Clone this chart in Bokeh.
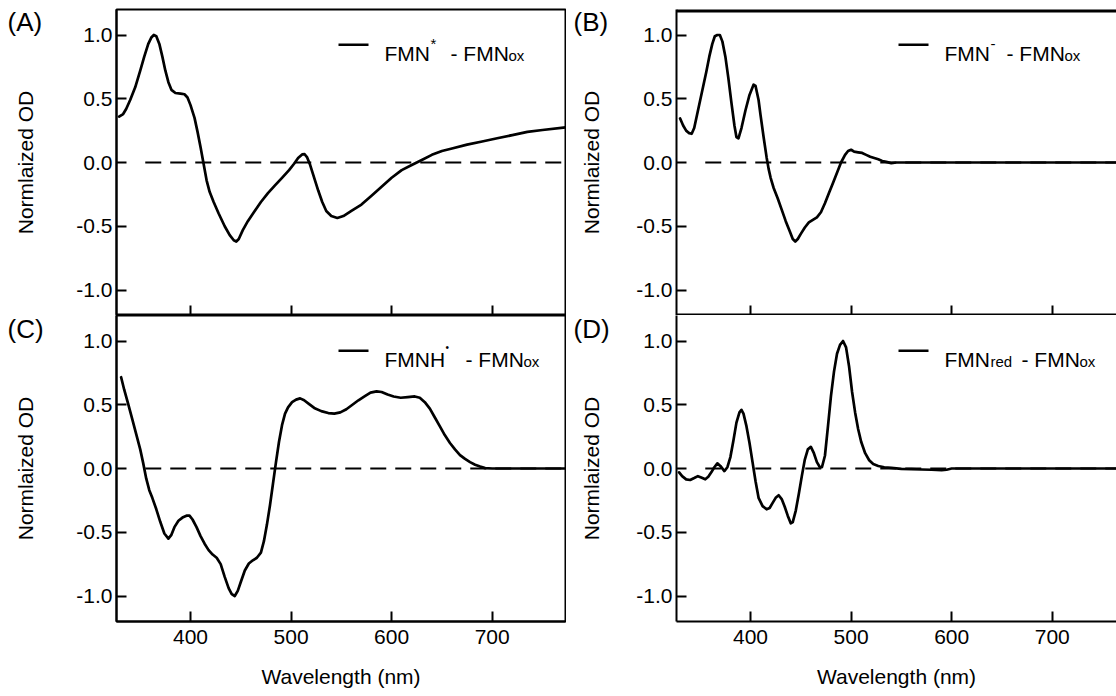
import math
from bokeh.plotting import figure
from bokeh.layouts import column, row
from bokeh.models import FixedTicker, NumeralTickFormatter, Label, BoxAnnotation, Range1d
from bokeh.embed import file_html
from bokeh.resources import INLINE

# ---------------- data ----------------
wl_a = [329, 333, 336, 340, 345, 350, 354, 358, 361, 363.5, 366, 369, 372, 375, 378, 381, 385, 390, 394,
        397, 400, 404, 407, 410, 413, 416, 419, 423, 428, 434, 439, 443, 445.5, 448, 452, 457, 463, 470,
        477, 484, 491, 498, 503, 507, 511, 513.5, 516, 519, 523, 527, 531, 535, 540, 546, 552, 560, 570,
        580, 590, 600, 610, 620, 630, 640, 650, 660, 675, 690, 705, 720, 735, 750, 773]
od_a = [0.36, 0.38, 0.42, 0.49, 0.59, 0.72, 0.83, 0.93, 0.98, 1.0, 0.99, 0.93, 0.83, 0.72, 0.63, 0.57,
        0.545, 0.54, 0.535, 0.51, 0.45, 0.35, 0.24, 0.12, -0.01, -0.14, -0.23, -0.31, -0.40, -0.50, -0.57,
        -0.61, -0.62, -0.60, -0.53, -0.46, -0.39, -0.31, -0.24, -0.18, -0.12, -0.06, -0.01, 0.035, 0.063,
        0.065, 0.04, -0.02, -0.12, -0.22, -0.31, -0.38, -0.42, -0.435, -0.42, -0.38, -0.33, -0.26, -0.19,
        -0.12, -0.06, -0.02, 0.02, 0.06, 0.09, 0.11, 0.14, 0.165, 0.19, 0.215, 0.24, 0.255, 0.275]

wl_b = [330, 333, 336, 339, 341.5, 344, 347, 350, 353, 356, 359, 362, 364.5, 367, 369.5, 372, 375, 378,
        381, 384, 386, 388, 391, 395, 399, 403, 405, 408, 410, 413, 416, 418, 420, 423, 427, 431, 435,
        439, 442, 444.5, 447, 450, 454, 458, 462, 466, 470, 474, 478, 482, 486, 490, 494, 497, 500, 503,
        507, 511, 515, 519, 523, 527, 531, 535, 540, 545, 775]
od_b = [0.345, 0.29, 0.25, 0.23, 0.225, 0.27, 0.38, 0.49, 0.60, 0.71, 0.83, 0.93, 0.99, 1.0, 1.0, 0.95,
        0.83, 0.66, 0.47, 0.29, 0.20, 0.19, 0.27, 0.41, 0.53, 0.61, 0.60, 0.49, 0.37, 0.20, 0.04, -0.05,
        -0.12, -0.20, -0.28, -0.37, -0.46, -0.54, -0.60, -0.62, -0.60, -0.56, -0.51, -0.47, -0.45, -0.43,
        -0.39, -0.32, -0.24, -0.16, -0.08, 0.0, 0.06, 0.09, 0.10, 0.085, 0.08, 0.075, 0.06, 0.045, 0.035,
        0.025, 0.012, 0.005, -0.005, 0.0, 0.0]

wl_c = [331, 334, 338, 342, 346, 350, 353, 356, 359, 362, 366, 370, 374, 378, 381, 384, 388, 392, 396,
        399, 402, 406, 410, 414, 418, 422, 426, 430, 434, 438, 441, 444, 447, 450, 454, 458, 462, 466,
        470, 473, 476, 479, 482, 485, 488, 491, 494, 497, 501, 505, 509, 513, 518, 523, 530, 537, 543,
        549, 555, 561, 567, 573, 579, 585, 590, 596, 602, 609, 616, 623, 628, 633, 638, 643, 648, 653,
        658, 663, 668, 673, 678, 683, 688, 693, 700, 775]
od_c = [0.716, 0.62, 0.507, 0.39, 0.27, 0.15, 0.04, -0.08, -0.17, -0.23, -0.32, -0.42, -0.51, -0.55,
        -0.52, -0.46, -0.41, -0.385, -0.37, -0.37, -0.40, -0.46, -0.53, -0.59, -0.64, -0.675, -0.70,
        -0.75, -0.85, -0.94, -0.985, -1.0, -0.96, -0.89, -0.80, -0.745, -0.72, -0.70, -0.66, -0.57,
        -0.44, -0.29, -0.12, 0.05, 0.21, 0.34, 0.43, 0.48, 0.52, 0.54, 0.55, 0.535, 0.505, 0.475, 0.45,
        0.435, 0.43, 0.44, 0.465, 0.50, 0.535, 0.565, 0.595, 0.605, 0.60, 0.58, 0.565, 0.555, 0.56,
        0.565, 0.555, 0.52, 0.47, 0.40, 0.33, 0.26, 0.20, 0.15, 0.105, 0.075, 0.05, 0.03, 0.015, 0.003,
        0.0, 0.0]

wl_d = [329, 332, 336, 340, 344, 347.7, 351, 355, 358, 361, 364, 367, 370, 374, 377, 380, 383, 386, 389,
        391, 393, 396, 399, 402, 405, 408, 412, 416, 419, 422, 425, 428, 431, 434, 437, 440, 442, 445,
        448, 451, 454, 457, 460, 463, 466, 469, 471, 474, 477, 480, 483, 486, 489, 492, 495, 498, 501,
        504, 507, 510, 514, 518, 522, 527, 533, 540, 550, 560, 570, 580, 590, 595, 600, 775]
od_d = [-0.03, -0.06, -0.085, -0.09, -0.075, -0.06, -0.07, -0.085, -0.065, -0.03, 0.01, 0.04, 0.02,
        -0.02, 0.01, 0.09, 0.22, 0.36, 0.44, 0.46, 0.43, 0.33, 0.20, 0.05, -0.10, -0.23, -0.295, -0.32,
        -0.31, -0.27, -0.23, -0.21, -0.24, -0.30, -0.37, -0.43, -0.42, -0.33, -0.20, -0.06, 0.07, 0.15,
        0.17, 0.12, 0.05, 0.01, 0.01, 0.10, 0.33, 0.57, 0.76, 0.90, 0.97, 1.0, 0.95, 0.80, 0.60, 0.44,
        0.31, 0.21, 0.12, 0.065, 0.035, 0.02, 0.01, 0.005, -0.003, -0.005, -0.008, -0.01, -0.013, -0.01,
        0.0, 0.0]

zero_line_wl = [355, 775]
zero_line_od = [0, 0]

x_ticks = [400, 500, 600, 700]
y_ticks = [-1.0, -0.5, 0.0, 0.5, 1.0]
x_label = "Wavelength (nm)"
y_label = "Normlaized OD"
panel_tags = ["(A)", "(B)", "(C)", "(D)"]
# legend text parts: (text, kind, x offset from frame left in px)
legend_a = [("FMN", "n", 268), ("*", "sup", 314), ("- FMN", "n", 334), ("ox", "sub", 392)]
legend_b = [("FMN", "n", 268), ("-", "sup", 314), ("- FMN", "n", 330), ("ox", "sub", 388)]
legend_c = [("FMNH", "n", 268), ("•", "dot", 329), ("- FMN", "n", 349), ("ox", "sub", 407)]
legend_d = [("FMN", "n", 268), ("red", "sub", 314), ("- FMN", "n", 345), ("ox", "sub", 403)]

# ---------------- styling ----------------
FONT = "Liberation Sans"
FS = 21
SMALL = 15
FRAME_H = 306
X0 = 326.4
X1_LEFT = 772.9
X1_RIGHT = 763.9
Y0, Y1 = -1.2, 1.2
GUTTER = 60


def style_axes(p, show_x_labels):
    for ax in (p.xaxis[0], p.yaxis[0]):
        ax.axis_line_width = 2
        ax.axis_line_color = "black"
        ax.major_tick_line_width = 2
        ax.major_tick_line_color = "black"
        ax.major_tick_in = 10
        ax.major_tick_out = 0
        ax.minor_tick_line_color = None
        ax.major_label_text_font = FONT
        ax.major_label_text_font_size = f"{FS}px"
        ax.major_label_text_color = "black"
        ax.axis_label_text_font = FONT
        ax.axis_label_text_font_size = f"{FS}px"
        ax.axis_label_text_font_style = "normal"
        ax.axis_label_text_color = "black"
    p.xaxis.ticker = FixedTicker(ticks=x_ticks)
    p.yaxis.ticker = FixedTicker(ticks=y_ticks)
    p.yaxis.formatter = NumeralTickFormatter(format="0.0")
    p.yaxis.major_label_standoff = 4
    if show_x_labels:
        p.xaxis.major_label_standoff = 8
        p.xaxis.axis_label = x_label
        p.xaxis.axis_label_standoff = 18
    else:
        p.xaxis.major_label_text_color = None
        p.xaxis.major_label_standoff = 0


def make_gutter(top, bottom, tag, tag_above_frame):
    g = figure(width=GUTTER, height=top + FRAME_H + bottom, output_backend="svg", toolbar_location=None,
               x_axis_type=None, y_axis_type=None, x_range=Range1d(0, 1), y_range=Range1d(0, 1),
               min_border_left=0, min_border_right=0, min_border_top=top, min_border_bottom=bottom)
    g.outline_line_color = None
    g.grid.visible = False
    g.add_layout(Label(x=25, y=FRAME_H / 2, x_units="screen", y_units="screen",
                       text=y_label, angle=math.pi / 2, text_font=FONT, text_font_size=f"{FS}px",
                       text_color="black", text_align="center", text_baseline="middle"))
    g.add_layout(Label(x=7, y=FRAME_H + tag_above_frame, x_units="screen", y_units="screen",
                       text=tag, text_font=FONT, text_font_size="26px", text_color="black",
                       text_align="left", text_baseline="top"))
    return g


def make_panel(wl, od, legend_parts, left, frame_w, right, top, bottom, x1, outline, top_line,
               bottom_axis_w=2):
    p = figure(width=left + frame_w + right, height=top + FRAME_H + bottom, output_backend="svg",
               toolbar_location=None, x_range=Range1d(X0, x1), y_range=Range1d(Y0, Y1),
               min_border_left=left, min_border_right=right, min_border_top=top,
               min_border_bottom=bottom)
    p.grid.visible = False
    p.background_fill_color = "white"
    p.border_fill_color = "white"
    if outline:
        p.outline_line_color = "black"
        p.outline_line_width = 2
    else:
        p.outline_line_color = None
    style_axes(p, bottom > 0)
    p.xaxis.axis_line_width = bottom_axis_w

    if top_line:
        # frame top edge (the right edge of this panel is cut off by the picture)
        p.hspan(y=[Y1], line_color="black", line_width=top_line)

    p.line(zero_line_wl, zero_line_od, line_color="black", line_width=2, line_dash="16 9")
    p.line(wl, od, line_color="black", line_width=2.7, line_join="round", line_cap="round")

    # legend sample line
    p.add_layout(BoxAnnotation(left=222, right=252, bottom=FRAME_H - 36.5, top=FRAME_H - 34,
                               left_units="screen", right_units="screen", top_units="screen",
                               bottom_units="screen", fill_color="black", fill_alpha=1.0,
                               line_color=None))
    base = FRAME_H - 44
    for txt, kind, x in legend_parts:
        size = {"n": FS, "sup": SMALL, "sub": SMALL, "dot": 10}[kind]
        dy = {"n": 0, "sup": 10, "sub": -1.5, "dot": 12}[kind]
        p.add_layout(Label(x=x, y=base + dy, x_units="screen", y_units="screen", text=txt,
                           text_font=FONT, text_font_size=f"{size}px", text_color="black",
                           text_baseline="alphabetic", text_align="left"))
    return p


ga = make_gutter(9, 0, panel_tags[0], 3)
pa = make_panel(wl_a, od_a, legend_a, 56, 449, 1, 9, 0, X1_LEFT, True, 0)
gb = make_gutter(9, 0, panel_tags[1], 3)
pb = make_panel(wl_b, od_b, legend_b, 50, 440, 0, 9, 0, X1_RIGHT, False, 6, bottom_axis_w=4)
gc = make_gutter(0, 75, panel_tags[2], 2)
pc = make_panel(wl_c, od_c, legend_c, 56, 449, 1, 0, 75, X1_LEFT, True, 0)
gd = make_gutter(0, 75, panel_tags[3], 2)
pd = make_panel(wl_d, od_d, legend_d, 50, 440, 0, 0, 75, X1_RIGHT, False, 0)

layout = column(row(ga, pa, gb, pb), row(gc, pc, gd, pd))
open("out.html", "w").write(file_html(layout, INLINE))
